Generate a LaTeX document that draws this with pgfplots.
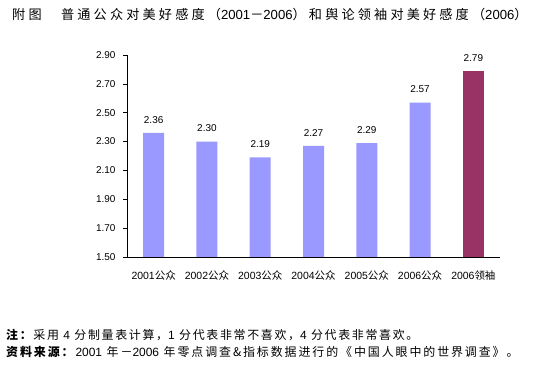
\documentclass[border=0pt]{standalone}
\usepackage{pgfplots}
\pgfplotsset{compat=1.18}
\usepackage{fontspec}
\setmainfont{Liberation Sans}
\newfontfamily\cjk{Noto Sans CJK SC}
\newfontfamily\cjkwide{Noto Sans CJK SC}[LetterSpace=24]
\newfontfamily\cjknote{Noto Sans CJK SC}[LetterSpace=14]
\newfontfamily\cjknoteb{Noto Sans CJK SC}[LetterSpace=16]
\newcommand\dg[1]{{\rmfamily #1}}
\definecolor{barblue}{HTML}{9999FF}
\definecolor{barmar}{HTML}{993366}
\begin{document}
\begin{tikzpicture}
\useasboundingbox (0bp,0bp) rectangle (547bp,391bp);
\begin{axis}[
  at={(127bp,134bp)}, anchor=south west,
  scale only axis, width=373bp, height=202bp,
  xmin=-0.5, xmax=6.5, ymin=1.5, ymax=2.9,
  axis x line=bottom, axis y line=left,
  axis line style={-, black, line width=0.8pt},
  ytick={1.5,1.7,1.9,2.1,2.3,2.5,2.7,2.9},
  yticklabel style={/pgf/number format/.cd, fixed, fixed zerofill, precision=2, /tikz/.cd, font=\fontsize{10}{12}\selectfont, xshift=-4bp},
  /pgf/number format/assume math mode=true,
  tick align=outside, major tick length=4bp,
  ytick style={black, line width=0.6pt},
  xtick={0,...,6},
  xtick style={draw=none},
  xticklabels={2001{\cjk 公众},2002{\cjk 公众},2003{\cjk 公众},2004{\cjk 公众},2005{\cjk 公众},2006{\cjk 公众},2006{\cjk 领袖}},
  xticklabel style={font=\fontsize{10.5}{12}\selectfont, yshift=-6bp},
  ybar, bar width=21bp,
  nodes near coords,
  nodes near coords style={font=\fontsize{10}{12}\selectfont, /pgf/number format/.cd, fixed, fixed zerofill, precision=2, assume math mode=true, /tikz/.cd, yshift=6bp},
  clip=false,
]
\addplot[bar shift=0pt, draw=none, fill=barblue] coordinates {(0,2.36) (1,2.30) (2,2.19) (3,2.27) (4,2.29) (5,2.57)};
\addplot[bar shift=0pt, draw=none, fill=barmar] coordinates {(6,2.79)};
\end{axis}
\node[anchor=west, inner sep=0pt, font=\fontsize{13.2}{15}\selectfont\cjkwide] at (12bp,376bp) {附图　普通公众对美好感度（\dg{2001}－\dg{2006}）和舆论领袖对美好感度（\dg{2006}）};
\node[anchor=west, inner sep=0pt, font=\fontsize{12}{13}\selectfont\cjknote] at (6bp,56bp) {\textbf{注：}采用 \dg{4} 分制量表计算，\dg{1} 分代表非常不喜欢，\dg{4} 分代表非常喜欢。};
\node[anchor=west, inner sep=0pt, font=\fontsize{12}{13}\selectfont\cjknoteb] at (6bp,39bp) {\textbf{资料来源：}\dg{2001} 年－\dg{2006} 年零点调查\&指标数据进行的《中国人眼中的世界调查》。};
\end{tikzpicture}
\end{document}
